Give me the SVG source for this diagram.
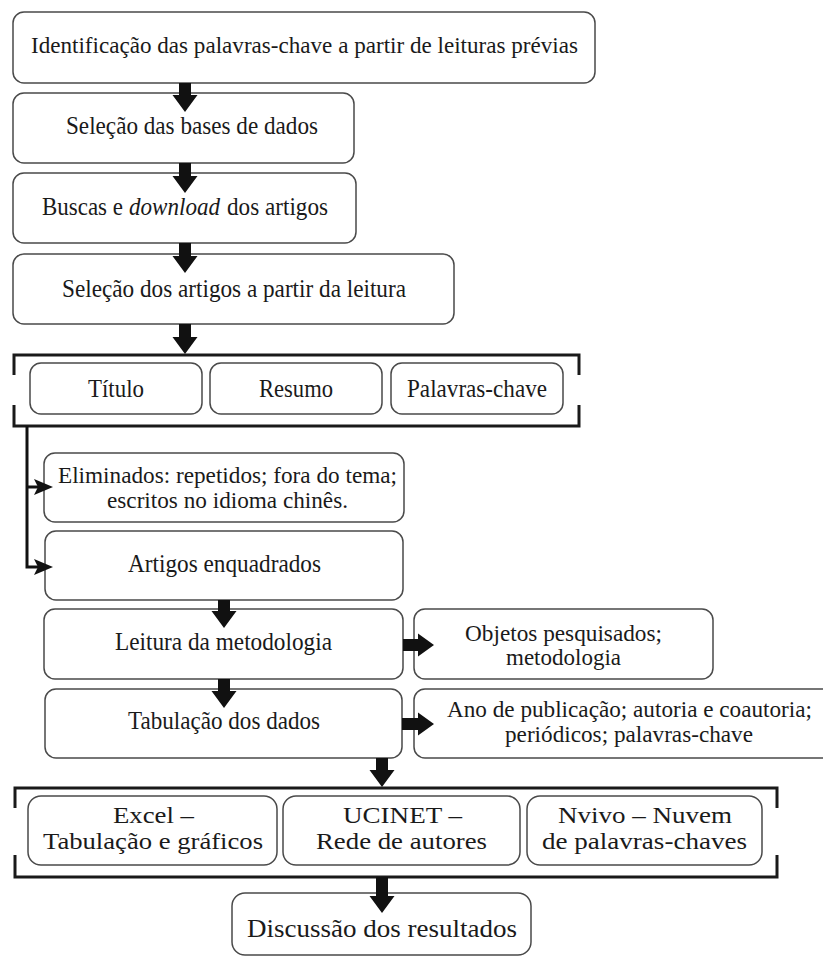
<svg xmlns="http://www.w3.org/2000/svg" width="823" height="956" viewBox="0 0 823 956">
<style>
.box{fill:#fff;stroke:#4a4a4a;stroke-width:1.5}
text{font-family:'Liberation Serif','Times New Roman','DejaVu Serif',serif;font-size:26px;fill:#1a1a1a}
.s23{font-size:23px}
.s24{font-size:24px}
.it{font-style:italic}
.brk{fill:none;stroke:#1a1a1a;stroke-width:3}
.arr{fill:#111;stroke:none}
.ln{fill:none;stroke:#111;stroke-width:3}
</style>
<rect width="823" height="956" fill="#fff"/>
<g id="n1"><rect class="box" x="13" y="12" width="582" height="71" rx="11"/><text class="s23" x="31" y="53" textLength="547" lengthAdjust="spacingAndGlyphs">Identificação das palavras-chave a partir de leituras prévias</text></g>
<g id="n2"><rect class="box" x="13" y="93" width="341" height="70" rx="11"/><text x="66" y="134" textLength="252" lengthAdjust="spacingAndGlyphs">Seleção das bases de dados</text></g>
<g id="n3"><rect class="box" x="13" y="173" width="343" height="70" rx="11"/><text x="42" y="215" textLength="81" lengthAdjust="spacingAndGlyphs">Buscas e</text><text class="it" x="129" y="215" textLength="91" lengthAdjust="spacingAndGlyphs">download</text><text x="227" y="215" textLength="101" lengthAdjust="spacingAndGlyphs">dos artigos</text></g>
<g id="n4"><rect class="box" x="13" y="254" width="441" height="70" rx="11"/><text x="62" y="297" textLength="344" lengthAdjust="spacingAndGlyphs">Seleção dos artigos a partir da leitura</text></g>
<g id="group1"><path class="brk" d="M14,375 V355 H579 V375 M14,405 V426 H579 V405"/></g>
<g id="n5"><rect class="box" x="30" y="363" width="172" height="51" rx="11"/><text x="88" y="397" textLength="56" lengthAdjust="spacingAndGlyphs">Título</text></g>
<g id="n6"><rect class="box" x="210" y="363" width="172" height="51" rx="11"/><text x="259" y="397" textLength="74" lengthAdjust="spacingAndGlyphs">Resumo</text></g>
<g id="n7"><rect class="box" x="391" y="363" width="172" height="51" rx="11"/><text x="407" y="397" textLength="140" lengthAdjust="spacingAndGlyphs">Palavras-chave</text></g>
<g id="n8"><rect class="box" x="44" y="453" width="360" height="69" rx="11"/><text class="s24" x="58" y="483" textLength="339" lengthAdjust="spacingAndGlyphs">Eliminados: repetidos; fora do tema;</text><text class="s24" x="107" y="508" textLength="241" lengthAdjust="spacingAndGlyphs">escritos no idioma chinês.</text></g>
<g id="n9"><rect class="box" x="45" y="531" width="358" height="69" rx="11"/><text x="128" y="572" textLength="193" lengthAdjust="spacingAndGlyphs">Artigos enquadrados</text></g>
<g id="n10"><rect class="box" x="44" y="609" width="359" height="70" rx="11"/><text x="115" y="650" textLength="217" lengthAdjust="spacingAndGlyphs">Leitura da metodologia</text></g>
<g id="n11"><rect class="box" x="414" y="609" width="299" height="70" rx="11"/><text class="s23" x="465" y="641" textLength="197" lengthAdjust="spacingAndGlyphs">Objetos pesquisados;</text><text class="s23" x="506" y="665" textLength="115" lengthAdjust="spacingAndGlyphs">metodologia</text></g>
<g id="n12"><rect class="box" x="45" y="689" width="357" height="69" rx="11"/><text x="128" y="729" textLength="192" lengthAdjust="spacingAndGlyphs">Tabulação dos dados</text></g>
<g id="n13"><rect class="box" x="414" y="689" width="431" height="69" rx="11"/><text class="s23" x="447" y="717" textLength="365" lengthAdjust="spacingAndGlyphs">Ano de publicação; autoria e coautoria;</text><text class="s23" x="505" y="742" textLength="248" lengthAdjust="spacingAndGlyphs">periódicos; palavras-chave</text></g>
<g id="group2"><path class="brk" d="M15,808 V788 H777 V808 M15,855 V877 H777 V855"/></g>
<g id="n14"><rect class="box" x="28" y="796" width="249" height="69" rx="13"/><text class="s24" x="113" y="823" textLength="81" lengthAdjust="spacingAndGlyphs">Excel –</text><text class="s24" x="43" y="849" textLength="220" lengthAdjust="spacingAndGlyphs">Tabulação e gráficos</text></g>
<g id="n15"><rect class="box" x="283" y="796" width="237" height="69" rx="13"/><text class="s24" x="343" y="823" textLength="119" lengthAdjust="spacingAndGlyphs">UCINET –</text><text class="s24" x="316" y="849" textLength="171" lengthAdjust="spacingAndGlyphs">Rede de autores</text></g>
<g id="n16"><rect class="box" x="527" y="796" width="235" height="69" rx="13"/><text class="s24" x="558" y="823" textLength="174" lengthAdjust="spacingAndGlyphs">Nvivo – Nuvem</text><text class="s24" x="542" y="849" textLength="205" lengthAdjust="spacingAndGlyphs">de palavras-chaves</text></g>
<g id="n17"><rect class="box" x="232" y="893" width="299" height="62" rx="13"/><text x="247" y="937" textLength="270" lengthAdjust="spacingAndGlyphs">Discussão dos resultados</text></g>
<g id="connectors">
<polygon class="arr" points="179,83 191,83 191,95 197.5,95 185,112 172.5,95 179,95"/>
<polygon class="arr" points="179,163 191,163 191,176 197.5,176 185,193 172.5,176 179,176"/>
<polygon class="arr" points="179,243 191,243 191,256 197.5,256 185,273 172.5,256 179,256"/>
<polygon class="arr" points="179,324 191,324 191,337 197.5,337 185,354 172.5,337 179,337"/>
<path class="ln" d="M27,426 V567 H45 M27,487 H45"/>
<polygon class="arr" points="34,479 53,487 34,495 38,487"/>
<polygon class="arr" points="34,559 53,567 34,575 38,567"/>
<polygon class="arr" points="218,600 230,600 230,611 236.5,611 224,628 211.5,611 218,611"/>
<polygon class="arr" points="218,679 230,679 230,691 236.5,691 224,708 211.5,691 218,691"/>
<polygon class="arr" points="403,639 418,639 418,633.5 434,645 418,656.5 418,651 403,651"/>
<polygon class="arr" points="402,718 418,718 418,712.5 434,724 418,735.5 418,730 402,730"/>
<polygon class="arr" points="376,758 388,758 388,770 394.5,770 382,787 369.5,770 376,770"/>
<polygon class="arr" points="376,877 388,877 388,896 394.5,896 382,913 369.5,896 376,896"/>
</g>
</svg>
